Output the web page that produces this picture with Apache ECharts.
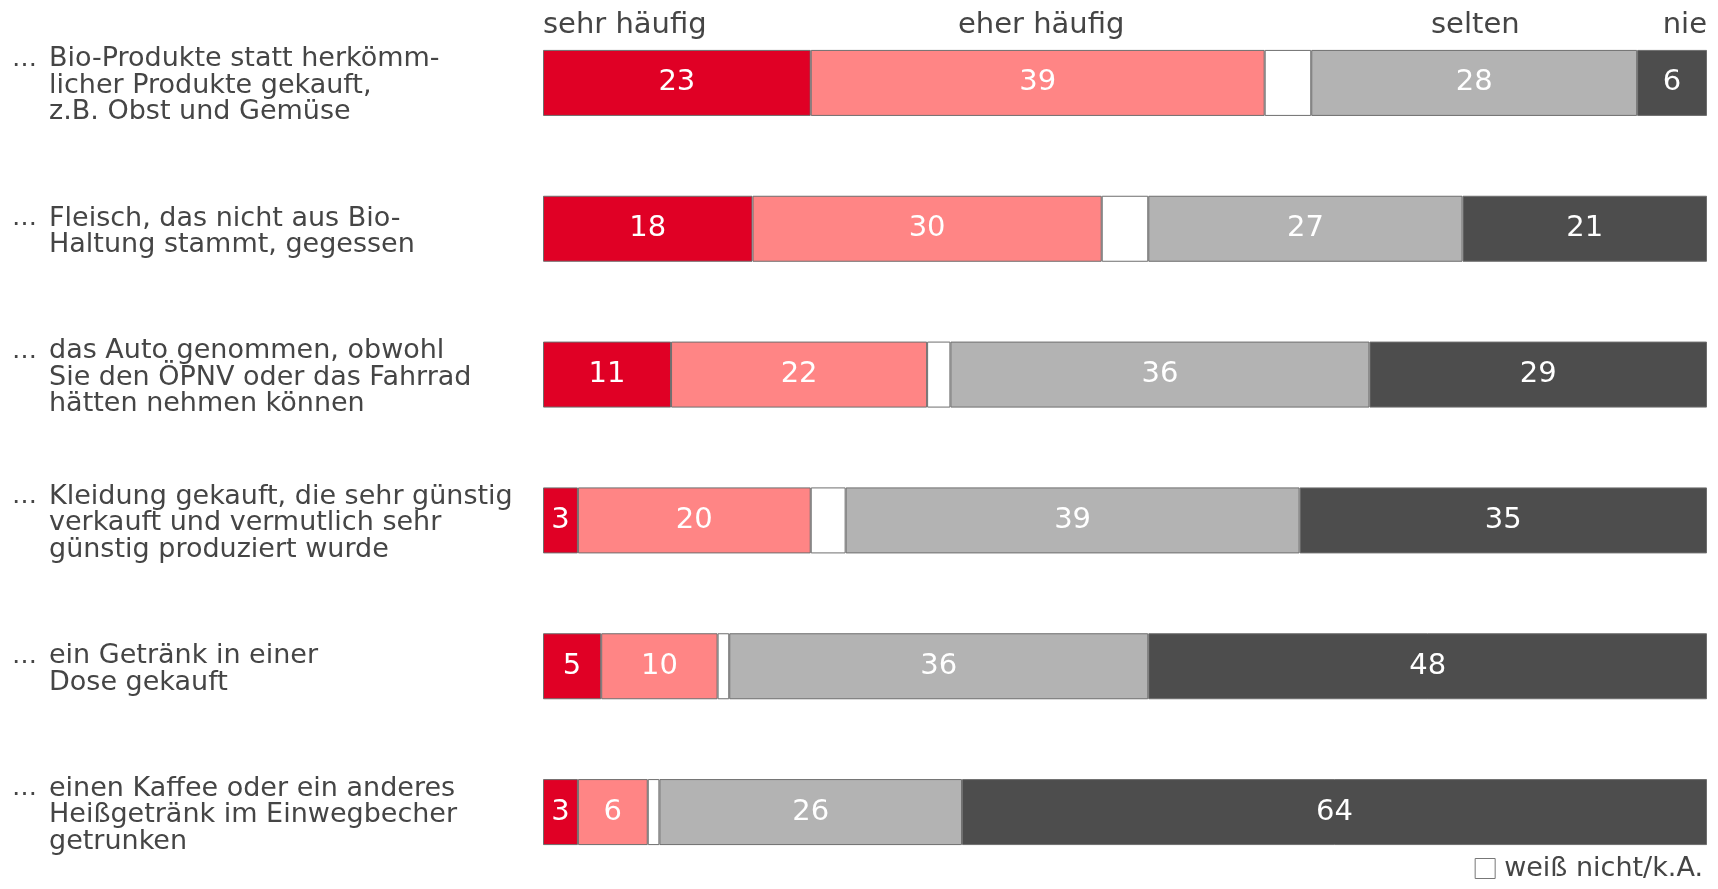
<!DOCTYPE html>
<html><head><meta charset="utf-8">
<script src="https://cdn.jsdelivr.net/npm/echarts@6/dist/echarts.min.js"></script>
<style>html,body{margin:0;padding:0;background:#fff}#c{width:1718px;height:889px}</style>
</head><body><div id="c"></div>
<script>
const categories = [
  ["Bio-Produkte statt herkömm-", "licher Produkte gekauft,", "z.B. Obst und Gemüse"],
  ["Fleisch, das nicht aus Bio-", "Haltung stammt, gegessen"],
  ["das Auto genommen, obwohl", "Sie den ÖPNV oder das Fahrrad", "hätten nehmen können"],
  ["Kleidung gekauft, die sehr günstig", "verkauft und vermutlich sehr", "günstig produziert wurde"],
  ["ein Getränk in einer", "Dose gekauft"],
  ["einen Kaffee oder ein anderes", "Heißgetränk im Einwegbecher", "getrunken"]
];
const seriesNames = ["sehr häufig", "eher häufig", "weiß nicht/k.A.", "selten", "nie"];
const sehrHaeufig = [23, 18, 11, 3, 5, 3];
const eherHaeufig = [39, 30, 22, 20, 10, 6];
const weissNicht  = [4, 4, 2, 3, 1, 1];
const selten      = [28, 27, 36, 39, 36, 26];
const nie         = [6, 21, 29, 35, 48, 64];
const colors = ["#e00025", "#ff8585", "#ffffff", "#b3b3b3", "#4d4d4d"];
const values = [sehrHaeufig, eherHaeufig, weissNicht, selten, nie];

const chart = echarts.init(document.getElementById('c'));
const font = "'DejaVu Sans', Verdana, sans-serif";
const txt = '#454545';
const series = seriesNames.map((n, i) => ({
  name: n, type: 'bar', stack: 'all', barWidth: 66,
  data: values[i],
  itemStyle: { color: colors[i], borderColor: '#6e6e6e', borderWidth: 1 },
  label: { show: i !== 2, position: 'inside', color: '#fff', fontSize: 29, fontFamily: font },
  emphasis: { disabled: true }
}));
chart.setOption({
  animation: false,
  grid: { left: 543, right: 11, top: 10, bottom: 4 },
  xAxis: { type: 'value', min: 0, max: 100, show: false },
  yAxis: {
    type: 'category', inverse: true, data: categories.map((c, i) => i),
    axisLine: { show: false }, axisTick: { show: false },
    axisLabel: {
      align: 'left', margin: 531, padding: [6, 0, 0, 0],
      formatter: (v) => categories[v].map((l, j) => '{e|' + (j === 0 ? '…' : ' ') + '}{t|' + l + '}').join('\n'),
      rich: {
        e: { width: 37, fontSize: 25, fontFamily: font, color: txt, lineHeight: 26.5 },
        t: { fontSize: 27, fontFamily: font, color: txt, lineHeight: 26.5 }
      }
    }
  },
  legend: {
    data: [seriesNames[2]], right: 10, bottom: 2, icon: 'rect', itemWidth: 20, itemHeight: 20, itemGap: 14,
    textStyle: { fontSize: 27, fontFamily: font, color: txt, padding: [0, 0, 0, 4] },
    itemStyle: { borderColor: '#777', borderWidth: 1 }
  },
  graphic: [
    { type: 'text', left: 543, top: 11, style: { text: seriesNames[0], font: '29px ' + font, fill: txt } },
    { type: 'text', left: 958, top: 11, style: { text: seriesNames[1], font: '29px ' + font, fill: txt } },
    { type: 'text', left: 1431, top: 11, style: { text: seriesNames[3], font: '29px ' + font, fill: txt } },
    { type: 'text', right: 11, top: 11, style: { text: seriesNames[4], font: '29px ' + font, fill: txt } }
  ],
  series
});
</script></body></html>
